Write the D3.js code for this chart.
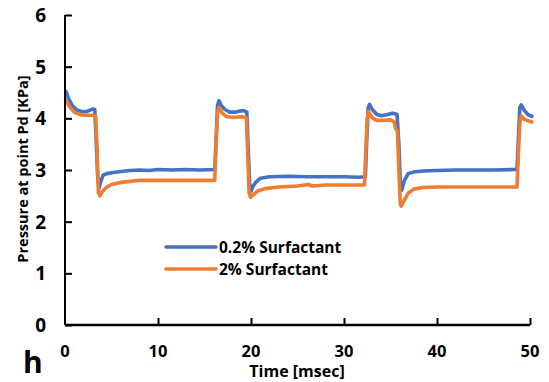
<!DOCTYPE html>
<html>
<head>
<meta charset="utf-8">
<script src="https://cdn.jsdelivr.net/npm/d3@7"></script>
<style>
  html, body { margin: 0; padding: 0; background: #fff; }
  svg { display: block; }
  text { font-family: "Open Sans", Lato, "Noto Sans", sans-serif; font-weight: bold; fill: #000; }
</style>
</head>
<body>
<svg id="chart" width="549" height="382"></svg>
<script>
// ---- data ----
const seriesNames = ["0.2% Surfactant", "2% Surfactant"];
const xTicks = [0, 10, 20, 30, 40, 50];
const yTicks = [0, 1, 2, 3, 4, 5, 6];

const timeA = [0.1,0.4,0.8,1.3,1.8,2.3,2.7,3.0,3.2,3.35,3.5,3.65,3.85,4.1,4.5,5.2,6.0,7.0,8.0,9.0,10.0,11.5,13,14.5,16.1,
  16.25,16.4,16.55,16.8,17.2,17.7,18.3,18.8,19.2,19.55,19.7,19.85,20.0,20.2,20.5,21.0,22,24,26,28,30,31.5,32.3,
  32.45,32.6,32.75,33.0,33.5,34.0,34.6,35.2,35.7,35.9,36.05,36.2,36.5,36.9,37.5,38.5,40,42,44,46,48.6,
  48.75,48.9,49.05,49.4,49.8,50.2];
const valA = [4.52,4.38,4.24,4.16,4.13,4.13,4.16,4.18,4.17,3.6,2.9,2.64,2.78,2.9,2.93,2.95,2.97,2.99,3.00,2.99,3.01,3.00,3.01,3.00,3.01,
  3.6,4.25,4.34,4.25,4.17,4.12,4.12,4.14,4.15,4.12,3.4,2.75,2.58,2.68,2.76,2.84,2.87,2.88,2.87,2.87,2.87,2.86,2.87,
  3.6,4.2,4.27,4.18,4.08,4.05,4.07,4.10,4.08,3.5,2.8,2.61,2.8,2.93,2.96,2.98,2.99,3.00,3.00,3.00,3.01,
  3.6,4.2,4.26,4.15,4.07,4.04];

const timeB = [0.1,0.5,1.0,1.6,2.2,3.0,3.3,3.45,3.6,3.75,4.0,4.5,5.0,6.0,7,8,10,12,14,16.1,
  16.25,16.4,16.55,16.9,17.4,18.2,19.0,19.5,19.65,19.8,19.95,20.3,20.8,21.5,23,25,26.2,26.6,28,30,32.2,
  32.35,32.5,32.65,33.0,33.5,34.2,35.0,35.4,35.55,35.75,35.9,36.05,36.15,36.5,36.9,37.5,38.5,40,44,48.6,
  48.75,48.9,49.05,49.4,50.2];
const valB = [4.35,4.22,4.12,4.07,4.06,4.06,4.04,3.4,2.55,2.50,2.58,2.67,2.72,2.76,2.78,2.80,2.80,2.80,2.80,2.80,
  3.5,4.1,4.21,4.10,4.03,4.02,4.03,4.01,3.3,2.55,2.47,2.53,2.6,2.64,2.67,2.69,2.72,2.69,2.71,2.71,2.71,
  3.4,4.0,4.13,4.02,3.96,3.96,3.97,3.93,3.80,3.75,3.0,2.35,2.30,2.42,2.55,2.63,2.66,2.67,2.67,2.67,
  3.3,3.9,4.05,3.98,3.93];

const colors = ["#4472C4", "#ED7D31"];

// ---- layout ----
const svg = d3.select("#chart");
const x = d3.scaleLinear().domain([0, 50]).range([65, 530]);
const y = d3.scaleLinear().domain([0, 6]).range([325, 15]);

const series = [
  timeA.map((t, i) => [t, valA[i]]),
  timeB.map((t, i) => [t, valB[i]])
];

const line = d3.line().x(d => x(d[0])).y(d => y(d[1]));

// lines
series.forEach((s, i) => {
  svg.append("path")
    .datum(s)
    .attr("d", line)
    .attr("fill", "none")
    .attr("stroke", colors[i])
    .attr("stroke-width", 3.6)
    .attr("stroke-linejoin", "round")
    .attr("stroke-linecap", "round");
});

// y axis
const yAxis = svg.append("g")
  .attr("transform", `translate(${x(0)},0)`)
  .call(d3.axisRight(y).tickValues(yTicks).tickSize(7).tickFormat(""));
yAxis.select(".domain").attr("d", `M0,${y(6)}V${y(0)}`).attr("stroke", "#000").attr("stroke-width", 2);
yAxis.selectAll(".tick line").attr("stroke", "#000").attr("stroke-width", 2);

yTicks.forEach(v => {
  svg.append("text")
    .attr("x", 46).attr("y", y(v))
    .attr("text-anchor", "end")
    .attr("dominant-baseline", "central")
    .style("font-size", "19px")
    .text(v);
});

// x axis
const xAxis = svg.append("g")
  .attr("transform", `translate(0,${y(0)})`)
  .call(d3.axisTop(x).tickValues(xTicks).tickSize(7).tickFormat(""));
xAxis.select(".domain").attr("d", `M${x(0)},0H${x(50)}`).attr("stroke", "#000").attr("stroke-width", 2.5);
xAxis.selectAll(".tick line").attr("stroke", "#000").attr("stroke-width", 2);
xAxis.selectAll(".tick").filter(d => d === 0).remove();

xTicks.forEach(v => {
  svg.append("text")
    .attr("x", x(v)).attr("y", 357)
    .attr("text-anchor", "middle")
    .style("font-size", "16.5px")
    .text(v);
});

// axis titles
svg.append("text")
  .attr("x", 297).attr("y", 377)
  .attr("text-anchor", "middle")
  .style("font-size", "16px")
  .text("Time [msec]");

svg.append("text")
  .attr("transform", "translate(22,169) rotate(-90)")
  .attr("text-anchor", "middle")
  .attr("dominant-baseline", "central")
  .style("font-size", "14.5px")
  .text("Pressure at point Pd [KPa]");

svg.append("text")
  .attr("x", 23).attr("y", 373)
  .style("font-size", "30px")
  .text("h");

// legend
const legY = [247, 269];
seriesNames.forEach((n, i) => {
  svg.append("line")
    .attr("x1", 166).attr("x2", 216)
    .attr("y1", legY[i]).attr("y2", legY[i])
    .attr("stroke", colors[i]).attr("stroke-width", 3.5)
    .attr("stroke-linecap", "round");
  svg.append("text")
    .attr("x", 219).attr("y", legY[i])
    .attr("dominant-baseline", "central")
    .style("font-size", "15.5px")
    .text(n);
});
</script>
</body>
</html>
